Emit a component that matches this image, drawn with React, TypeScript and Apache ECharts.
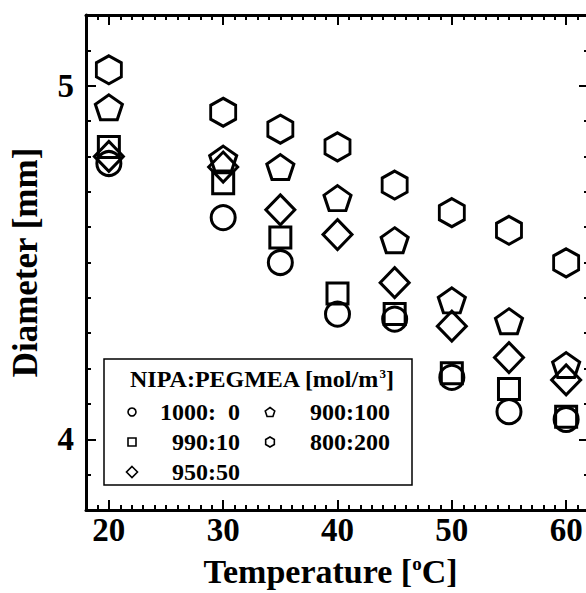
import React, { useEffect, useRef } from "react";
import * as echarts from "echarts";

// ---- data ----
const temperatures = [20, 30, 35, 40, 45, 50, 55, 60];
const seriesNames = ["1000:  0", "990:10", "950:50", "900:100", "800:200"];
const d1000_0 = [4.78, 4.627, 4.5, 4.354, 4.34, 4.175, 4.078, 4.056];
const d990_10 = [4.827, 4.724, 4.571, 4.412, 4.354, 4.187, 4.142, 4.064];
const d950_50 = [4.8, 4.77, 4.649, 4.579, 4.443, 4.32, 4.231, 4.168];
const d900_100 = [4.939, 4.794, 4.77, 4.682, 4.563, 4.393, 4.334, 4.21];
const d800_200 = [5.045, 4.925, 4.877, 4.827, 4.719, 4.641, 4.591, 4.499];
const xMajorTicks = [20, 30, 40, 50, 60];
const yMajorTicks = [4, 5];

const FONT = '"Liberation Serif", "Times New Roman", serif';
const PENTAGON = "path://M50 0 L97.55 34.55 L79.39 90.45 L20.61 90.45 L2.45 34.55 Z";
const HEXAGON = "path://M50 0 L93.3 25 L93.3 75 L50 100 L6.7 75 L6.7 25 Z";

function polyPoints(cx: number, cy: number, r: number, n: number, rot: number) {
  const pts: number[][] = [];
  for (let i = 0; i < n; i++) {
    const a = rot + (i * 2 * Math.PI) / n;
    pts.push([cx + r * Math.sin(a), cy - r * Math.cos(a)]);
  }
  return pts;
}

export default function App() {
  const ref = useRef<HTMLDivElement>(null);
  useEffect(() => {
    if (!ref.current) return;
    const chart = echarts.init(ref.current, null, { renderer: "svg" });
    const black = "#000";
    const xBase: any = {
      type: "value",
      min: 18,
      max: 62,
      splitLine: { show: false },
    };
    const yBase: any = {
      type: "value",
      min: 3.8,
      max: 5.2,
      splitLine: { show: false },
    };
    const minorX = (pos: string) => ({
      ...xBase,
      position: pos,
      interval: 1,
      axisLine: { show: true, onZero: false, lineStyle: { color: black, width: 3 } },
      axisTick: { show: true, inside: true, length: 5, lineStyle: { color: black, width: 2 } },
      axisLabel: { show: false },
    });
    const majorX = (pos: string, labels: boolean) => ({
      ...xBase,
      position: pos,
      axisLine: { show: false, onZero: false },
      axisTick: {
        show: true,
        inside: true,
        length: 10,
        customValues: xMajorTicks,
        lineStyle: { color: black, width: 2 },
      },
      axisLabel: labels
        ? {
            show: true,
            customValues: xMajorTicks,
            color: black,
            fontFamily: FONT,
            fontWeight: "bold",
            fontSize: 33,
            margin: 3,
          }
        : { show: false },
      ...(labels
        ? {
            name: "Temperature [{s|o}C]",
            nameLocation: "middle",
            nameGap: 44,
            nameTextStyle: {
              color: black,
              fontFamily: FONT,
              fontWeight: "bold",
              fontSize: 34,
              padding: [0, 14, 0, 0],
              rich: {
                s: {
                  color: black,
                  fontFamily: FONT,
                  fontWeight: "bold",
                  fontSize: 19,
                  verticalAlign: "top",
                },
              },
            },
          }
        : {}),
    });
    const minorY = (pos: string) => ({
      ...yBase,
      position: pos,
      interval: 0.1,
      axisLine: { show: true, onZero: false, lineStyle: { color: black, width: 3 } },
      axisTick: { show: true, inside: true, length: 5, lineStyle: { color: black, width: 2 } },
      axisLabel: { show: false },
    });
    const majorY = (pos: string, labels: boolean) => ({
      ...yBase,
      position: pos,
      axisLine: { show: false, onZero: false },
      axisTick: {
        show: true,
        inside: true,
        length: 10,
        customValues: yMajorTicks,
        lineStyle: { color: black, width: 2 },
      },
      axisLabel: labels
        ? {
            show: true,
            customValues: yMajorTicks,
            color: black,
            fontFamily: FONT,
            fontWeight: "bold",
            fontSize: 33,
            margin: 12,
          }
        : { show: false },
      ...(labels
        ? {
            name: "Diameter [mm]",
            nameLocation: "middle",
            nameGap: 43,
            nameRotate: 90,
            nameTextStyle: {
              color: black,
              fontFamily: FONT,
              fontWeight: "bold",
              fontSize: 35,
            },
          }
        : {}),
    });

    const mk = (name: string, vals: number[], symbol: string, size: any) => ({
      name,
      type: "scatter",
      xAxisIndex: 0,
      yAxisIndex: 0,
      data: temperatures.map((t, i) => [t, vals[i]]),
      symbol,
      symbolSize: size,
      itemStyle: { color: "rgba(0,0,0,0)", borderColor: black, borderWidth: 3, opacity: 1 },
      emphasis: { disabled: true },
    });

    const sym = { fill: "none", stroke: black, lineWidth: 1.6 };
    const txt = (text: string, x: number, y: number, align: string) => ({
      type: "text",
      x,
      y,
      style: {
        text,
        fill: black,
        font: `bold 24px ${FONT}`,
        textAlign: align,
        textVerticalAlign: "middle",
      },
    });
    const rows = [412, 442, 472];
    const legend: any[] = [
      {
        type: "rect",
        shape: { x: 104, y: 359, width: 308, height: 126 },
        style: { fill: "none", stroke: black, lineWidth: 1.5 },
      },
      {
        type: "text",
        x: 130,
        y: 379,
        style: {
          text: "{a|NIPA:PEGMEA [mol/m}{s|3}{a|]}",
          fill: black,
          textVerticalAlign: "middle",
          rich: {
            a: { fontFamily: FONT, fontWeight: "bold", fontSize: 24, color: black },
            s: {
              fontFamily: FONT,
              fontWeight: "bold",
              fontSize: 13,
              color: black,
              verticalAlign: "top",
            },
          },
        },
      },
      { type: "circle", shape: { cx: 132, cy: rows[0], r: 4 }, style: sym },
      { type: "rect", shape: { x: 128, y: rows[1] - 4, width: 8, height: 8 }, style: sym },
      { type: "polygon", shape: { points: polyPoints(132, rows[2], 5.5, 4, 0) }, style: sym },
      { type: "polygon", shape: { points: polyPoints(270, rows[0] + 0.5, 5, 5, 0) }, style: sym },
      { type: "polygon", shape: { points: polyPoints(270, rows[1], 5, 6, 0) }, style: sym },
      txt(seriesNames[0], 240, rows[0], "right"),
      txt(seriesNames[1], 240, rows[1], "right"),
      txt(seriesNames[2], 240, rows[2], "right"),
      txt(seriesNames[3], 390, rows[0], "right"),
      txt(seriesNames[4], 390, rows[1], "right"),
    ];

    chart.setOption({
      animation: false,
      backgroundColor: "#fff",
      grid: { left: 85, right: 0, top: 15, bottom: 76, containLabel: false },
      xAxis: [minorX("bottom"), minorX("top"), majorX("bottom", true), majorX("top", false)],
      yAxis: [minorY("left"), minorY("right"), majorY("left", true), majorY("right", false)],
      series: [
        mk(seriesNames[0], d1000_0, "circle", 24),
        mk(seriesNames[1], d990_10, "rect", 21),
        mk(seriesNames[2], d950_50, "diamond", [29, 30]),
        mk(seriesNames[3], d900_100, PENTAGON, [27, 25]),
        mk(seriesNames[4], d800_200, HEXAGON, [25, 28]),
      ],
      graphic: legend,
    });
    return () => chart.dispose();
  }, []);
  return (
    <div
      ref={ref}
      style={{ position: "fixed", left: 0, top: 0, width: 589, height: 593, background: "#fff" }}
    />
  );
}
